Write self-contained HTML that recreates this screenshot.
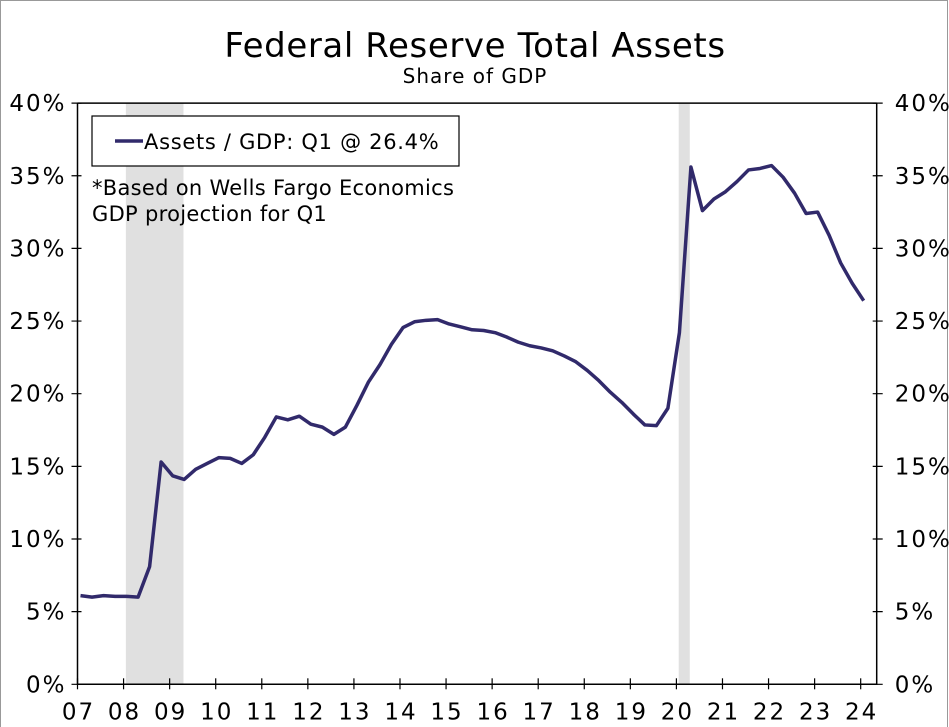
<!DOCTYPE html>
<html><head><meta charset="utf-8"><style>
html,body{margin:0;padding:0;background:#fff;}
svg{display:block;font-family:"DejaVu Sans","Liberation Sans",sans-serif;}
</style></head><body>
<svg id="chart" width="949" height="727" viewBox="0 0 949 727" xmlns="http://www.w3.org/2000/svg">
<rect x="0.5" y="0.5" width="947" height="727" fill="#fff" stroke="#999" stroke-width="1"/>
<text x="475" y="57" font-size="34" letter-spacing="0.6" text-anchor="middle" fill="#000">Federal Reserve Total Assets</text>
<text x="475" y="83" font-size="20" letter-spacing="1" text-anchor="middle" fill="#000">Share of GDP</text>
<g id="shade"></g>
<g id="axes"></g>
<g id="series"></g>
<g>
<rect x="92" y="116" width="367" height="50" fill="#fff" stroke="#000" stroke-width="1.2"/>
<line x1="115" y1="141" x2="143" y2="141" stroke="#312a6b" stroke-width="3.5"/>
<text x="144" y="149" font-size="21" letter-spacing="0.7" fill="#000">Assets / GDP: Q1 @ 26.4%</text>
</g>
<text x="92" y="195" font-size="21" letter-spacing="0.3" fill="#000">*Based on Wells Fargo Economics</text>
<text x="92" y="221" font-size="21" letter-spacing="0.3" fill="#000">GDP projection for Q1</text>
</svg>
<script>
const yearLabels=["07","08","09","10","11","12","13","14","15","16","17","18","19","20","21","22","23","24"];
const yTicks=[0,5,10,15,20,25,30,35,40];
const recessions=[[2008.05,2009.3],[2020.05,2020.29]];
const values=[6.1,6.0,6.1,6.05,6.05,6.0,8.1,15.3,14.35,14.1,14.8,15.2,15.6,15.55,15.2,15.8,17.0,18.4,18.2,18.45,17.9,17.7,17.2,17.7,19.2,20.8,22.0,23.4,24.55,24.95,25.05,25.1,24.8,24.6,24.4,24.35,24.2,23.9,23.55,23.3,23.15,22.95,22.6,22.2,21.6,20.9,20.1,19.4,18.6,17.85,17.8,19.0,24.2,35.6,32.6,33.4,33.9,34.6,35.4,35.5,35.7,34.9,33.8,32.4,32.5,30.9,29.0,27.6,26.4];
const NS="http://www.w3.org/2000/svg";
const X0=77.5,YW=46.07,Y0=684.3,PCT=14.53,XR=876.7;
function xs(yr){return X0+(yr-2007)*YW;}
function ys(v){return Y0-v*PCT;}
function mk(tag,attrs,parent){const e=document.createElementNS(NS,tag);for(const k in attrs)e.setAttribute(k,attrs[k]);parent.appendChild(e);return e;}
const shade=document.getElementById('shade'),axes=document.getElementById('axes'),series=document.getElementById('series');
recessions.forEach(r=>{
 const e=mk('rect',{x:xs(r[0]),y:ys(40),width:xs(r[1])-xs(r[0]),height:Y0-ys(40),fill:'#e0e0e0'},shade);
 
 
});
let f=mk('path',{d:`M${X0},${ys(40)}H${XR}M${X0},${ys(40)}V${Y0}H${XR}V${ys(40)}`,stroke:'#000','stroke-width':1.5,fill:'none'},axes);


yTicks.forEach(v=>{
 const y=ys(v);
 const t=mk('path',{d:`M${X0-6},${y}H${X0+4}M${XR-4},${y}H${XR+6}`,stroke:'#000','stroke-width':1.2},axes);
 
 
 const l=mk('text',{x:X0-11,y:y+8,'font-size':23,'letter-spacing':2,'text-anchor':'end'},axes);l.textContent=v+'%';
 
 
 const r=mk('text',{x:XR+18,y:y+8,'font-size':23,'letter-spacing':2,'text-anchor':'start'},axes);r.textContent=v+'%';
 
 
});
yearLabels.forEach((lab,i)=>{
 const x=xs(2007+i);
 const t=mk('line',{x1:x,y1:Y0-6,x2:x,y2:Y0+5,stroke:'#000','stroke-width':1.2},axes);
 
 
 const l=mk('text',{x:x+1,y:Y0+35,'font-size':23,'letter-spacing':2,'text-anchor':'middle'},axes);l.textContent=lab;
 
 
});
const pts=values.map((v,i)=>[Math.max(X0,xs(2007+i/4)+3),ys(v)]);
const line=mk('polyline',{points:pts.map(p=>p.join(',')).join(' '),fill:'none',stroke:'#312a6b','stroke-width':3.5,'stroke-linejoin':'round'},series);


</script>
</body></html>
